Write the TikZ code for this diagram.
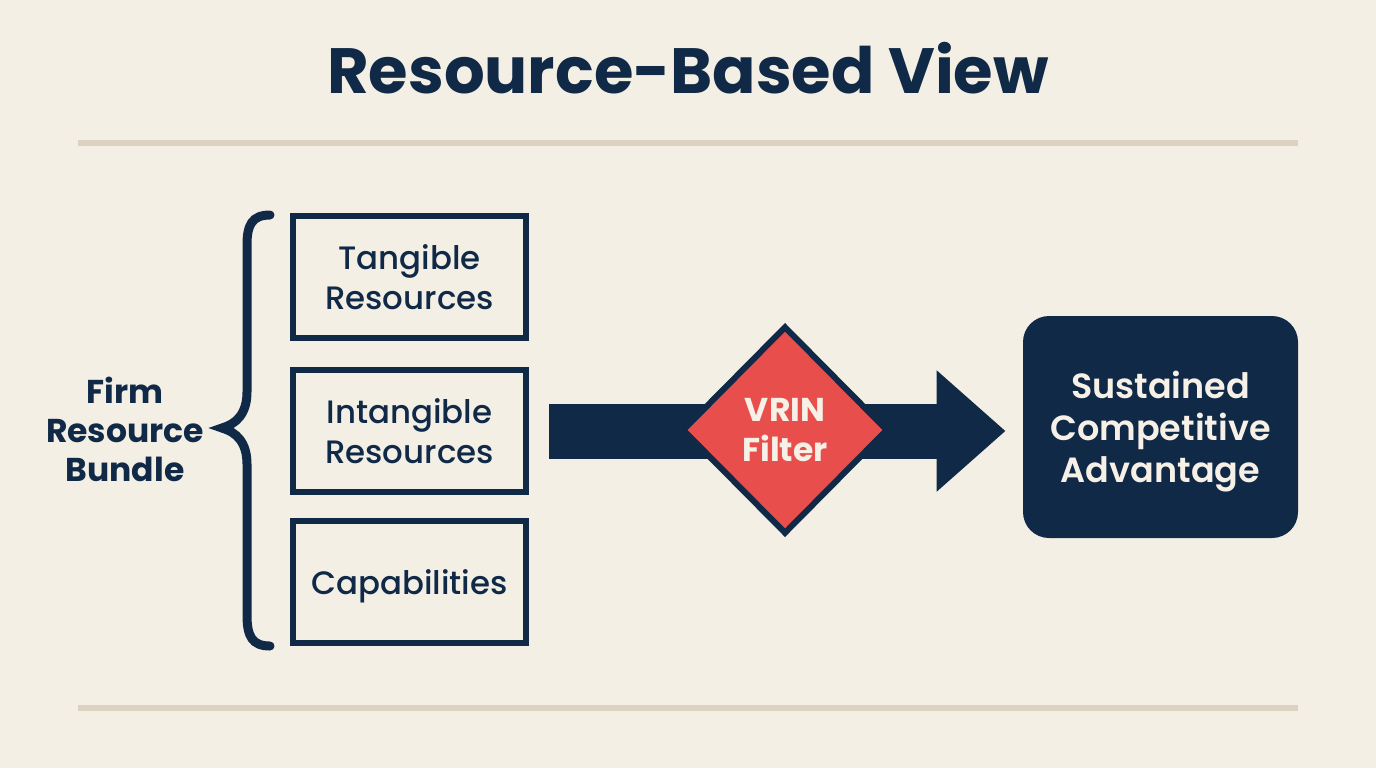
\documentclass[tikz,border=0pt]{standalone}
\usepackage{fontspec}
\setmainfont{Poppins}
\newfontfamily\popsemi{Poppins SemiBold}
\newfontfamily\popmed{Poppins Medium}
\usetikzlibrary{arrows.meta,shapes.geometric,calc}
\definecolor{bg}{HTML}{F4EFE5}
\definecolor{navy}{HTML}{0F2947}
\definecolor{rulec}{HTML}{DCD2C1}
\definecolor{vred}{HTML}{E84E4C}
\definecolor{cream}{HTML}{F6F0E6}
\begin{document}
\begin{tikzpicture}[x=0.5pt,y=-0.5pt,
  resbox/.style={draw=navy, line width=3pt, minimum width=116.5pt, minimum height=61pt,
    inner sep=0pt, text depth=0pt, align=center, text=navy, font=\popmed\fontsize{16.2}{20}\selectfont},
  rulel/.style={draw=rulec, line width=3pt},
  bracel/.style={draw=navy, line width=4.5pt, line cap=round},
  flow/.style={draw=navy, line width=27.5pt, -{Triangle[length=34.5pt,width=58.5pt]}},
  filt/.style={diamond, draw=navy, fill=vred, line width=3pt, minimum width=103pt,
    minimum height=104pt, inner sep=0pt, align=center, text=cream,
    font=\bfseries\fontsize{16.5}{20}\selectfont},
  goal/.style={fill=navy, rounded corners=13pt, minimum width=137.5pt, minimum height=111pt,
    inner sep=0pt, text depth=0pt, align=center, text=cream, font=\popsemi\fontsize{17.5}{21}\selectfont},
  lbl/.style={align=center, text=navy, font=\bfseries\fontsize{16.5}{19.5}\selectfont},
  ttl/.style={text=navy, font=\bfseries\fontsize{32}{36}\selectfont, inner sep=0pt}]
\fill[bg] (0,0) rectangle (1376,768);
\useasboundingbox (0,0) rectangle (1376,768);

\node[ttl, anchor=base] (title) at (688,93) {Resource-Based View};
\draw[rulel] (78,142.5) -- (1298,142.5);
\draw[rulel] (78,708) -- (1298,708);

\node[resbox] (tangible) at (409.5,277) {Tangible\\Resources};
\node[resbox] (intangible) at (409.5,431) {Intangible\\Resources};
\node[resbox] (capab) at (409.5,582) {Capabilities};

\node[lbl] (firm) at (125,429) {Firm\\Resource\\Bundle};

\draw[bracel] (270,215) .. controls (252,215) and (247,225) .. (247,245) -- (247,392)
  .. controls (247,414) and (236,424) .. (222,428)
  .. controls (236,432) and (247,442) .. (247,464) -- (247,615)
  .. controls (247,636) and (252,646) .. (270,646);

\node[goal] (sca) at (1160.5,427) {Sustained\\Competitive\\Advantage};

\draw[flow] ($(intangible.east)+(20,0)$) -- ($(sca.west |- intangible.east)+(-17,0)$);

\node[filt] (vrin) at (785,430) {VRIN\\Filter};
\end{tikzpicture}
\end{document}
